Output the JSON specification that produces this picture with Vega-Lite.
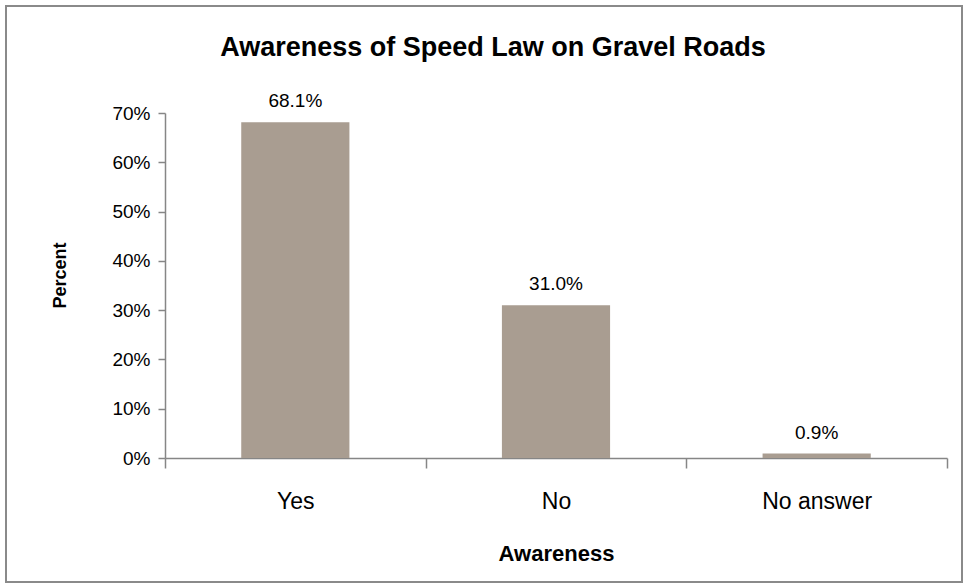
{
  "$schema": "https://vega.github.io/schema/vega-lite/v6.json",
  "width": 956,
  "height": 576,
  "autosize": {"type": "none"},
  "padding": {"left": 6, "top": 6, "right": 3, "bottom": 6},
  "background": "white",
  "title": {
    "text": "Awareness of Speed Law on Gravel Roads",
    "anchor": "middle",
    "frame": "group",
    "orient": "top",
    "offset": -51,
    "baseline": "alphabetic",
    "dx": 9,
    "dy": 26,
    "fontSize": 27,
    "font": "Liberation Sans",
    "fontWeight": "bold",
    "color": "black"
  },
  "data": {
    "values": [
      {"Awareness": "Yes", "Percent": 0.681},
      {"Awareness": "No", "Percent": 0.31},
      {"Awareness": "No answer", "Percent": 0.009}
    ]
  },
  "encoding": {
    "x": {
      "field": "Awareness",
      "type": "nominal",
      "sort": null,
      "scale": {"range": [159, 941], "paddingInner": 0, "paddingOuter": 0},
      "axis": {
        "offset": -124,
        "tickBand": "extent",
        "tickSize": 10,
        "tickWidth": 1.5,
        "tickColor": "#868686",
        "domainColor": "#868686",
        "domainWidth": 1.5,
        "labelPadding": 22,
        "labelAngle": 0,
        "labelFontSize": 23,
        "labelFont": "Liberation Sans",
        "labelColor": "black",
        "title": "Awareness",
        "titleY": 102,
        "titleBaseline": "alphabetic",
        "titleFontSize": 22,
        "titleFont": "Liberation Sans",
        "titleFontWeight": "bold",
        "titleColor": "black",
        "grid": false
      }
    },
    "y": {
      "field": "Percent",
      "type": "quantitative",
      "scale": {"domain": [0, 0.7], "range": [452, 107], "nice": false},
      "axis": {
        "offset": -159,
        "values": [0, 0.1, 0.2, 0.3, 0.4, 0.5, 0.6, 0.7],
        "format": ".0%",
        "grid": false,
        "tickSize": 7,
        "tickWidth": 1.5,
        "tickColor": "#868686",
        "domainColor": "#868686",
        "domainWidth": 1.5,
        "labelPadding": 8,
        "labelFontSize": 19,
        "labelFont": "Liberation Sans",
        "labelColor": "black",
        "title": "Percent",
        "titleX": -100,
        "titleY": 269,
        "titleAngle": -90,
        "titleAlign": "center",
        "titleBaseline": "alphabetic",
        "titleFontSize": 18,
        "titleFont": "Liberation Sans",
        "titleFontWeight": "bold",
        "titleColor": "black"
      }
    }
  },
  "layer": [
    {"mark": {"type": "bar", "color": "#a99d91", "width": {"band": 0.415}}},
    {
      "mark": {"type": "text", "dy": -15, "baseline": "alphabetic", "fontSize": 19, "font": "Liberation Sans", "color": "black"},
      "encoding": {"text": {"field": "Percent", "type": "quantitative", "format": ".1%"}}
    }
  ],
  "config": {"view": {"stroke": "#8a8a8a", "strokeWidth": 2}}
}
